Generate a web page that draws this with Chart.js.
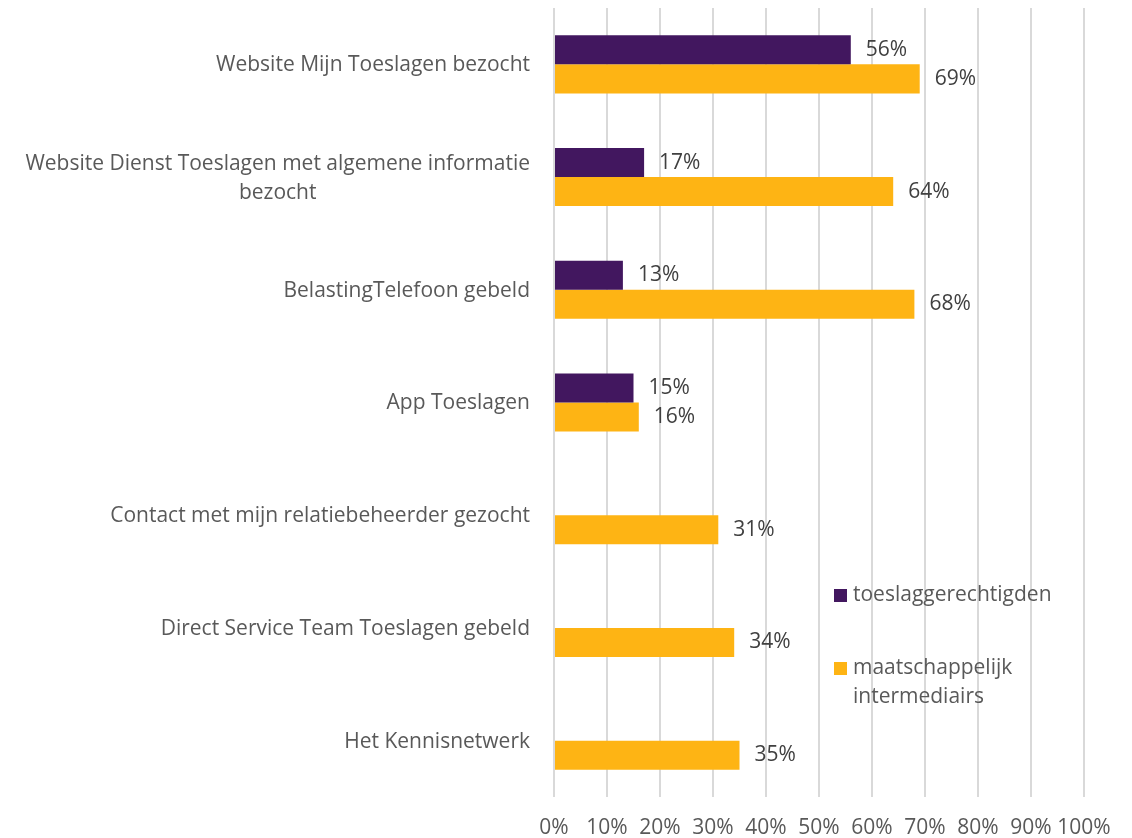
<!DOCTYPE html>
<html>
<head>
<meta charset="utf-8">
<script src="https://cdn.jsdelivr.net/npm/chart.js@4/dist/chart.umd.min.js"></script>
<style>
  body { margin: 0; background: #fff; }
  #chart { display: block; }
</style>
</head>
<body>
<canvas id="chart" width="1132" height="838"></canvas>
<script>
// Kanalen gebruikt: toeslaggerechtigden vs maatschappelijk intermediairs

const categories = [
  ["Website Mijn Toeslagen bezocht"],
  ["Website Dienst Toeslagen met algemene informatie", "bezocht"],
  ["BelastingTelefoon gebeld"],
  ["App Toeslagen"],
  ["Contact met mijn relatiebeheerder gezocht"],
  ["Direct Service Team Toeslagen gebeld"],
  ["Het Kennisnetwerk"]
];
const seriesNames = ["toeslaggerechtigden", ["maatschappelijk", "intermediairs"]];
const toeslaggerechtigden = [56, 17, 13, 15, null, null, null];
const intermediairs = [69, 64, 68, 16, 31, 34, 35];
const xTickValues = [0, 10, 20, 30, 40, 50, 60, 70, 80, 90, 100];

const PURPLE = '#42175f';
const YELLOW = '#feb414';
const FONT = '"Open Sans", sans-serif';
const FONT_SIZE = 21;

//-----PLUGIN: labels, values, legend
const drawExtras = {
  id: 'drawExtras',
  afterDatasetsDraw(chart) {
    const ctx = chart.ctx;
    const yScale = chart.scales.y;
    ctx.save();
    ctx.font = FONT_SIZE + 'px ' + FONT;

    //---Category labels (right edge 24px left of axis, lines centered)
    ctx.fillStyle = '#595959';
    ctx.textBaseline = 'middle';
    const rightEdge = chart.chartArea.left - 24;
    const lineH = 29;
    categories.forEach((lines, i) => {
      const yc = yScale.getPixelForValue(i) + 1;
      const widest = Math.max(...lines.map(l => ctx.measureText(l).width));
      const cx = rightEdge - widest / 2;
      ctx.textAlign = 'center';
      lines.forEach((l, j) => {
        const y = yc + (j - (lines.length - 1) / 2) * lineH;
        ctx.fillText(l, cx, y);
      });
    });

    //---Value labels
    ctx.fillStyle = '#404040';
    ctx.textAlign = 'left';
    chart.data.datasets.forEach((ds, di) => {
      const meta = chart.getDatasetMeta(di);
      meta.data.forEach((bar, i) => {
        const v = ds.data[i];
        if (v === null || v === undefined) return;
        ctx.fillText(v + '%', bar.x + 15, bar.y);
      });
    });

    //---Legend
    const legX = 834;
    const items = [
      { color: PURPLE, lines: [seriesNames[0]], y: 595 },
      { color: YELLOW, lines: seriesNames[1], y: 668 }
    ];
    items.forEach(it => {
      ctx.fillStyle = it.color;
      ctx.fillRect(legX, it.y - 6, 13, 13);
      ctx.fillStyle = '#595959';
      it.lines.forEach((l, j) => ctx.fillText(l, legX + 19, it.y + j * 29));
    });
    ctx.restore();
  }
};

const ctx = document.getElementById('chart').getContext('2d');
const chart1 = new Chart(ctx, {
  type: 'bar',
  data: {
    labels: categories.map(c => c.join(' ')),
    datasets: [
      { label: 'toeslaggerechtigden', data: toeslaggerechtigden, backgroundColor: PURPLE },
      { label: 'maatschappelijk intermediairs', data: intermediairs, backgroundColor: YELLOW }
    ]
  },
  plugins: [drawExtras],
  options: {
    indexAxis: 'y',
    responsive: false,
    animation: false,
    devicePixelRatio: 1,
    layout: { padding: { left: 554, right: 48, top: 8, bottom: 0 } },
    datasets: { bar: { categoryPercentage: 0.515, barPercentage: 1 } },
    plugins: {
      legend: { display: false },
      tooltip: { enabled: false }
    },
    scales: {
      y: { display: false },
      x: {
        min: 0,
        max: 100,
        afterBuildTicks: axis => { axis.ticks = xTickValues.map(v => ({ value: v })); },
        afterFit: axis => { axis.height = 41; },
        grid: { color: '#d9d9d9', lineWidth: 2, drawTicks: false },
        border: { display: false },
        ticks: {
          padding: 18,
          maxRotation: 0,
          minRotation: 0,
          autoSkip: false,
          color: '#595959',
          font: { family: FONT, size: FONT_SIZE },
          callback: v => v + '%'
        }
      }
    }
  }
});
</script>
</body>
</html>
